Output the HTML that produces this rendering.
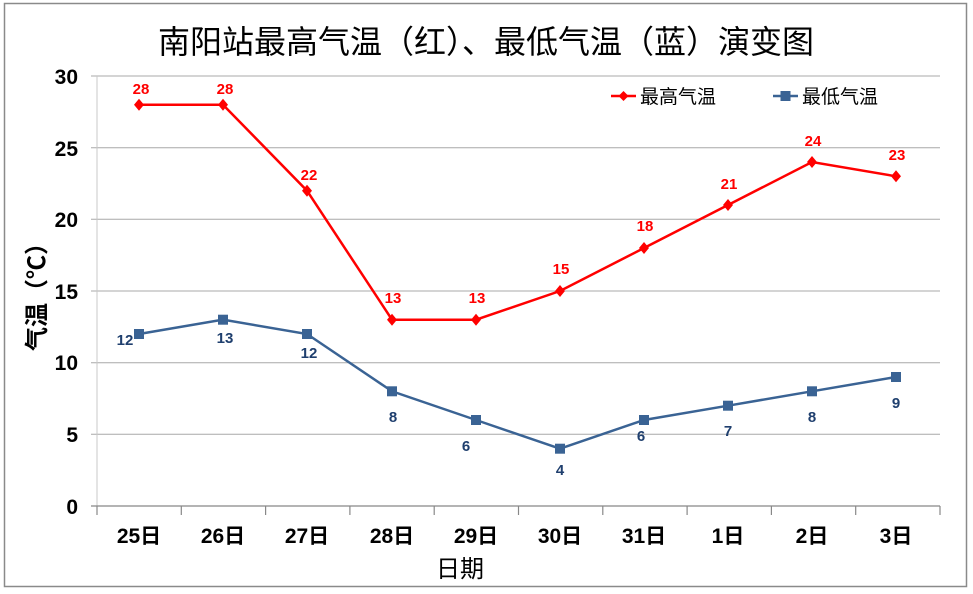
<!DOCTYPE html>
<html><head><meta charset="utf-8"><style>
body{margin:0;background:#fff}
svg{display:block;font-family:"Liberation Sans","Noto Sans CJK SC",sans-serif}
</style></head><body>
<svg width="973" height="594" viewBox="0 0 973 594">
<rect x="4.5" y="3.5" width="962" height="583" fill="#fff" stroke="#8a8a8a" stroke-width="1.5"/>
<text x="486" y="53" font-size="32" text-anchor="middle" fill="#000">南阳站最高气温（红）、最低气温（蓝）演变图</text>
<g stroke="#a8a8a8" stroke-width="1">
<line x1="91" y1="76" x2="940" y2="76"/>
<line x1="91" y1="147.7" x2="940" y2="147.7"/>
<line x1="91" y1="219.3" x2="940" y2="219.3"/>
<line x1="91" y1="291" x2="940" y2="291"/>
<line x1="91" y1="362.7" x2="940" y2="362.7"/>
<line x1="91" y1="434.3" x2="940" y2="434.3"/>
<line x1="97" y1="76" x2="97" y2="506" stroke="#c8c8c8"/>
</g>
<g stroke="#888" stroke-width="1.2">
<line x1="91" y1="506" x2="940" y2="506"/>
<line x1="97" y1="506" x2="97" y2="515"/><line x1="181.3" y1="506" x2="181.3" y2="515"/><line x1="265.6" y1="506" x2="265.6" y2="515"/><line x1="349.9" y1="506" x2="349.9" y2="515"/><line x1="434.2" y1="506" x2="434.2" y2="515"/><line x1="518.5" y1="506" x2="518.5" y2="515"/><line x1="602.8" y1="506" x2="602.8" y2="515"/><line x1="687.1" y1="506" x2="687.1" y2="515"/><line x1="771.4" y1="506" x2="771.4" y2="515"/><line x1="855.7" y1="506" x2="855.7" y2="515"/><line x1="940" y1="506" x2="940" y2="515"/>
</g>
<g font-size="21" font-weight="bold" text-anchor="end" fill="#000">
<text x="78" y="84">30</text><text x="78" y="156">25</text><text x="78" y="227">20</text><text x="78" y="299">15</text><text x="78" y="370">10</text><text x="78" y="442">5</text><text x="78" y="514">0</text>
</g>
<g font-size="21" font-weight="bold" text-anchor="middle" fill="#000">
<text x="139" y="543">25日</text><text x="223" y="543">26日</text><text x="307" y="543">27日</text><text x="392" y="543">28日</text><text x="476" y="543">29日</text><text x="560" y="543">30日</text><text x="644" y="543">31日</text><text x="728" y="543">1日</text><text x="812" y="543">2日</text><text x="896" y="543">3日</text>
</g>
<text x="460" y="577" font-size="24" text-anchor="middle">日期</text>
<text transform="translate(45,291) rotate(-90)" font-size="24" font-weight="bold" text-anchor="middle">气温（℃）</text>
<polyline fill="none" stroke="#ff0000" stroke-width="2.5" points="139,104.7 223,104.7 307,190.7 392,319.7 476,319.7 560,291 644,248 728,205 812,162 896,176.3"/>
<g fill="#ff0000">
<path d="M139,98.7l5,6-5,6-5-6z"/><path d="M223,98.7l5,6-5,6-5-6z"/><path d="M307,184.7l5,6-5,6-5-6z"/><path d="M392,313.7l5,6-5,6-5-6z"/><path d="M476,313.7l5,6-5,6-5-6z"/><path d="M560,285l5,6-5,6-5-6z"/><path d="M644,242l5,6-5,6-5-6z"/><path d="M728,199l5,6-5,6-5-6z"/><path d="M812,156l5,6-5,6-5-6z"/><path d="M896,170.3l5,6-5,6-5-6z"/>
</g>
<g font-size="15" font-weight="bold" fill="#ff0000" text-anchor="middle">
<text x="141" y="94">28</text><text x="225" y="94">28</text><text x="309" y="180">22</text><text x="393" y="303">13</text><text x="477" y="303">13</text><text x="561" y="274">15</text><text x="645" y="231">18</text><text x="729" y="189">21</text><text x="813" y="146">24</text><text x="897" y="160">23</text>
</g>
<polyline fill="none" stroke="#3a6394" stroke-width="2.5" points="139,334 223,319.7 307,334 392,391.3 476,420 560,448.7 644,420 728,405.7 812,391.3 896,377"/>
<g fill="#3a6394">
<rect x="134" y="329" width="10" height="10"/><rect x="218" y="314.7" width="10" height="10"/><rect x="302" y="329" width="10" height="10"/><rect x="387" y="386.3" width="10" height="10"/><rect x="471" y="415" width="10" height="10"/><rect x="555" y="443.7" width="10" height="10"/><rect x="639" y="415" width="10" height="10"/><rect x="723" y="400.7" width="10" height="10"/><rect x="807" y="386.3" width="10" height="10"/><rect x="891" y="372" width="10" height="10"/>
</g>
<g font-size="15" font-weight="bold" fill="#1f3f6e" text-anchor="middle">
<text x="125" y="345">12</text><text x="225" y="343">13</text><text x="309" y="358">12</text><text x="393" y="422">8</text><text x="466" y="451">6</text><text x="560" y="475">4</text><text x="641" y="441">6</text><text x="728" y="436">7</text><text x="812" y="422">8</text><text x="896" y="408">9</text>
</g>
<line x1="611" y1="96" x2="636" y2="96" stroke="#ff0000" stroke-width="2.5"/>
<path d="M623.5,91l5,5-5,5-5-5z" fill="#ff0000"/>
<text x="640" y="103" font-size="19">最高气温</text>
<line x1="773" y1="96" x2="798" y2="96" stroke="#3a6394" stroke-width="2.5"/>
<rect x="780.5" y="91" width="10" height="10" fill="#3a6394"/>
<text x="802" y="103" font-size="19">最低气温</text>
</svg>
</body></html>
